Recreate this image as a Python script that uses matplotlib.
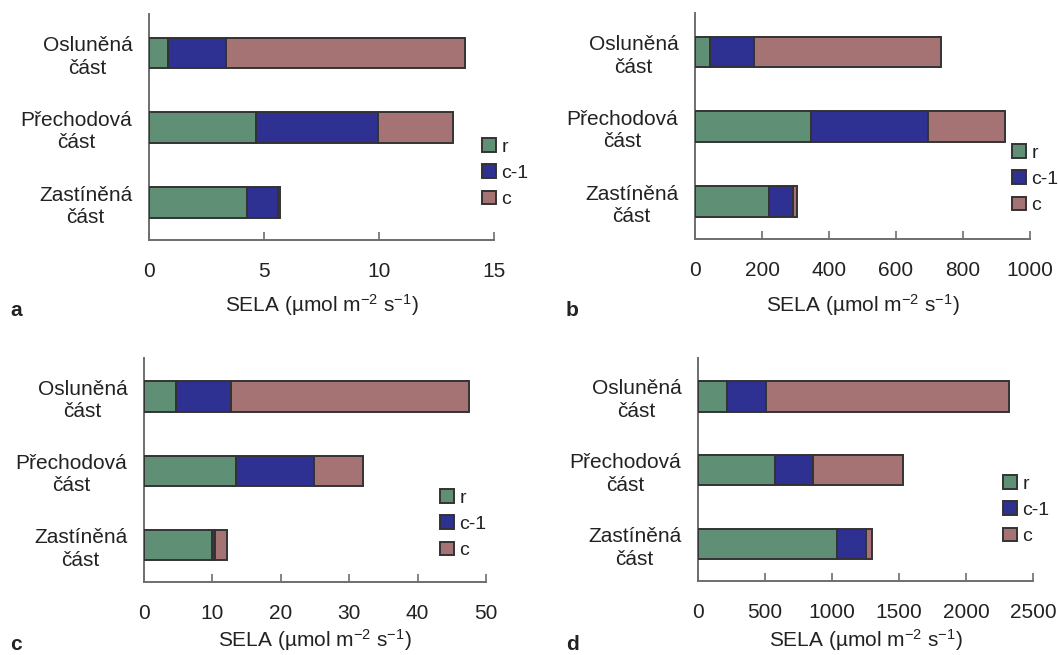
import matplotlib
matplotlib.use("Agg")
import matplotlib.pyplot as plt
from matplotlib.patches import Patch

plt.rcParams['font.family'] = ['Liberation Sans', 'DejaVu Sans']
plt.rcParams['mathtext.fontset'] = 'custom'
plt.rcParams['mathtext.rm'] = 'Liberation Sans'
plt.rcParams['mathtext.it'] = 'Liberation Sans'

categories = ["Osluněná\nčást", "Přechodová\nčást", "Zastíněná\nčást"]
series_names = ["r", "c-1", "c"]

# values per panel: order = categories (top to bottom)
a_r = [0.81, 4.64, 4.25]
a_c1 = [2.52, 5.30, 1.35]
a_c = [10.42, 3.29, 0.10]

b_r = [46, 346, 222]
b_c1 = [131, 351, 71]
b_c = [557, 228, 10]

c_r = [4.7, 13.4, 10.0]
c_c1 = [8.0, 11.5, 0.4]
c_c = [34.8, 7.1, 1.7]

d_r = [213, 571, 1036]
d_c1 = [296, 286, 219]
d_c = [1814, 672, 42]

panels = [
    ("a", [a_r, a_c1, a_c], 15, [0, 5, 10, 15]),
    ("b", [b_r, b_c1, b_c], 1000, [0, 200, 400, 600, 800, 1000]),
    ("c", [c_r, c_c1, c_c], 50, [0, 10, 20, 30, 40, 50]),
    ("d", [d_r, d_c1, d_c], 2500, [0, 500, 1000, 1500, 2000, 2500]),
]

colors = ["#5f8f75", "#2e3192", "#a57373"]
edge = "#333333"
spine_c = "#6e6e6e"

W, H = 1058, 655
fig = plt.figure(figsize=(W / 100, H / 100), dpi=100)

# axes rectangles in pixels: left, top, right, bottom
rects = [
    (149, 14, 494, 240),
    (695, 13, 1030, 239),
    (144, 358, 486, 582),
    (698, 358, 1033, 581),
]
legend_pos = [(482, 138), (1012, 144), (440, 489), (1003, 475)]
letter_pos = [(10, 310), (566, 310), (10, 645), (566, 645)]
xlabel_y = [305, 305, 640, 640]

for (letter, vals, xmax, ticks), (l, t, r, b), lp, lt, xly in zip(
        panels, rects, legend_pos, letter_pos, xlabel_y):
    ax = fig.add_axes([l / W, 1 - b / H, (r - l) / W, (b - t) / H])
    ypos = [2, 1, 0]
    left = [0, 0, 0]
    for s, name, col in zip(vals, series_names, colors):
        ax.barh(ypos, s, left=left, height=0.41, color=col, edgecolor=edge,
                linewidth=1.4, label=name, zorder=3)
        left = [a + v for a, v in zip(left, s)]
    ax.set_xlim(0, xmax)
    ax.set_ylim(-0.5, 2.52)
    ax.set_xticks(ticks)
    ax.set_xticklabels([str(v) for v in ticks])
    ax.set_yticks(ypos)
    ax.set_yticklabels(categories, ha='right', multialignment='center',
                       linespacing=1.25)
    ax.tick_params(axis='y', length=0, pad=12, labelsize=15, labelcolor='#222222')
    ax.tick_params(axis='x', direction='in', length=6, width=1.2, color=spine_c,
                   pad=16, labelsize=15, labelcolor='#222222')
    for sp in ['top', 'right']:
        ax.spines[sp].set_visible(False)
    for sp in ['left', 'bottom']:
        ax.spines[sp].set_color(spine_c)
        ax.spines[sp].set_linewidth(1.4)
    cx = (l + r) / 2
    fig.text(cx / W, 1 - xly / H,
             r'SELA (µmol m$^{\mathregular{-2}}$ s$^{\mathregular{-1}}$)',
             ha='center', va='center', fontsize=15, color='#222222')
    fig.text(lt[0] / W, 1 - lt[1] / H, letter, ha='left', va='center',
             fontsize=15, fontweight='bold', color='#222222')
    handles = [Patch(facecolor=c, edgecolor=edge, linewidth=1.4) for c in colors]
    leg = ax.legend(handles, series_names, loc='upper left',
                    bbox_to_anchor=(lp[0] / W, 1 - lp[1] / H),
                    bbox_transform=fig.transFigure, frameon=False,
                    fontsize=14, handlelength=0.7, handleheight=0.7,
                    handletextpad=0.3, labelspacing=0.45, borderpad=0,
                    borderaxespad=0)
    for txt in leg.get_texts():
        txt.set_color('#222222')

fig.savefig("out.png", dpi=100)
